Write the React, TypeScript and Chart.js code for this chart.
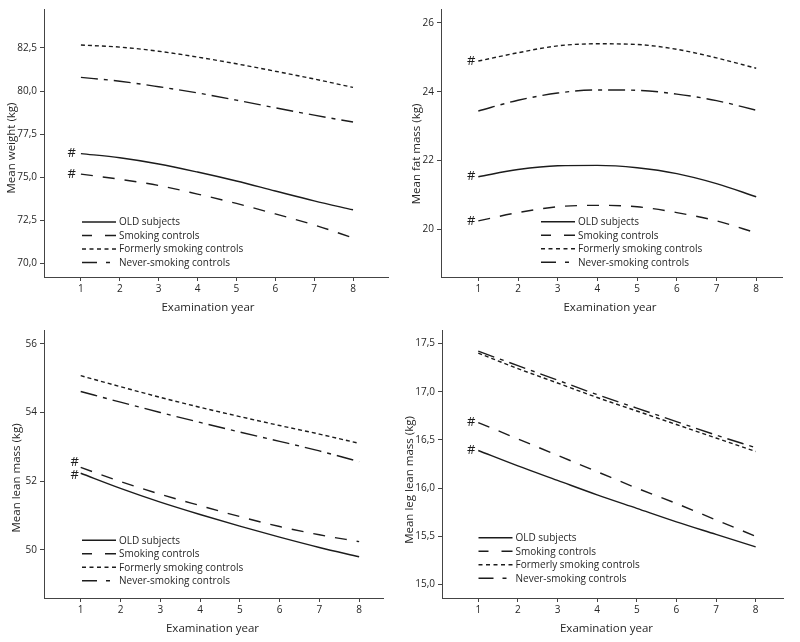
import React, { useEffect, useRef } from 'react';
import { Chart, registerables } from 'chart.js';

Chart.register(...registerables);

const FONT = '"Open Sans", "Noto Sans", sans-serif';
const INK = '#1c1c1c';
const AXIS = '#444444';
const TEXT = '#262626';

// ---- shared ----
const YEARS = [1, 2, 3, 4, 5, 6, 7, 8];
const SERIES_NAMES = ['OLD subjects', 'Smoking controls', 'Formerly smoking controls', 'Never-smoking controls'];
const X_TITLE = 'Examination year';

// ---- Mean weight (kg) ----
const weightOld = [76.37, 76.13, 75.77, 75.3, 74.78, 74.2, 73.63, 73.11];
const weightSmoking = [75.18, 74.88, 74.52, 74.02, 73.48, 72.87, 72.23, 71.48];
const weightFormer = [82.67, 82.55, 82.31, 81.97, 81.58, 81.15, 80.7, 80.21];
const weightNever = [80.79, 80.57, 80.25, 79.89, 79.47, 79.03, 78.6, 78.2];
const weightTicks = [70, 72.5, 75, 77.5, 80, 82.5];
const weightHashY = [76.37, 75.18];

// ---- Mean fat mass (kg) ----
const fatOld = [21.53, 21.74, 21.85, 21.86, 21.79, 21.62, 21.33, 20.95];
const fatSmoking = [20.25, 20.49, 20.66, 20.7, 20.66, 20.49, 20.25, 19.9];
const fatFormer = [24.89, 25.13, 25.33, 25.39, 25.37, 25.23, 24.98, 24.68];
const fatNever = [23.44, 23.75, 23.96, 24.05, 24.04, 23.93, 23.74, 23.46];
const fatTicks = [20, 22, 24, 26];
const fatHashY = [24.89, 21.53, 20.25];

// ---- Mean lean mass (kg) ----
const leanOld = [52.23, 51.79, 51.39, 51.03, 50.69, 50.37, 50.07, 49.8];
const leanSmoking = [52.4, 51.99, 51.62, 51.29, 50.97, 50.68, 50.44, 50.24];
const leanFormer = [55.07, 54.75, 54.44, 54.15, 53.88, 53.62, 53.37, 53.1];
const leanNever = [54.61, 54.3, 54.0, 53.71, 53.43, 53.16, 52.88, 52.57];
const leanTicks = [50, 52, 54, 56];
const leanHashY = [52.56, 52.17];

// ---- Mean leg lean mass (kg) ----
const legOld = [16.39, 16.23, 16.08, 15.93, 15.79, 15.65, 15.52, 15.39];
const legSmoking = [16.68, 16.51, 16.34, 16.17, 16.0, 15.84, 15.67, 15.5];
const legFormer = [17.4, 17.24, 17.09, 16.94, 16.8, 16.66, 16.52, 16.38];
const legNever = [17.42, 17.27, 17.12, 16.97, 16.83, 16.69, 16.55, 16.42];
const legTicks = [15, 15.5, 16, 16.5, 17, 17.5];
const legHashY = [16.68, 16.39];

// line styles: OLD solid, smoking long dash, formerly short dash, never dash-dot
const LINE_DASH = [[], [12, 10], [4, 3], [17, 6, 4, 6]];
const LEGEND_DASH = [[], [10, 13, 11], [4, 3.5], [15, 9, 4, 20]];

type PanelCfg = {
  series: number[][];
  ticks: number[];
  decimals: number;
  yTitle: string;
  yMin: number;
  yMax: number;
  xMin: number;
  xMax: number;
  hashY: number[];
  hashX: number;
  area: { left: number; right: number; top: number; bottom: number };
  yTitlePos: [number, number];
  xTitlePos: [number, number];
  legendPos: [number, number];
};

const PANELS: PanelCfg[] = [
  {
    series: [weightOld, weightSmoking, weightFormer, weightNever],
    ticks: weightTicks, decimals: 1, yTitle: 'Mean weight (kg)',
    yMin: 69.21, yMax: 84.76, xMin: 0.05, xMax: 8.9,
    hashY: weightHashY, hashX: 0.76,
    area: { left: 44, right: 388, top: 7, bottom: 277 },
    yTitlePos: [12, 148], xTitlePos: [208, 308], legendPos: [82, 222],
  },
  {
    series: [fatOld, fatSmoking, fatFormer, fatNever],
    ticks: fatTicks, decimals: 0, yTitle: 'Mean fat mass (kg)',
    yMin: 18.62, yMax: 26.4, xMin: 0.06, xMax: 8.65,
    hashY: fatHashY, hashX: 0.82,
    area: { left: 41, right: 382, top: 7, bottom: 277 },
    yTitlePos: [16.5, 154], xTitlePos: [210, 308], legendPos: [141, 221.7],
  },
  {
    series: [leanOld, leanSmoking, leanFormer, leanNever],
    ticks: leanTicks, decimals: 0, yTitle: 'Mean lean mass (kg)',
    yMin: 48.6, yMax: 56.4, xMin: 0.077, xMax: 8.6,
    hashY: leanHashY, hashX: 0.85,
    area: { left: 44, right: 383, top: 7, bottom: 277 },
    yTitlePos: [16.5, 157], xTitlePos: [212.5, 308], legendPos: [82, 219.3],
  },
  {
    series: [legOld, legSmoking, legFormer, legNever],
    ticks: legTicks, decimals: 1, yTitle: 'Mean leg lean mass (kg)',
    yMin: 14.86, yMax: 17.64, xMin: 0.085, xMax: 8.69,
    hashY: legHashY, hashX: 0.82,
    area: { left: 42, right: 383, top: 7, bottom: 277 },
    yTitlePos: [9.5, 159], xTitlePos: [206.5, 308], legendPos: [78.5, 216.7],
  },
];

const W = 400;
const H = 321;

const decorPlugin = {
  id: 'decor',
  afterDraw(chart: any, _args: any, opts: any) {
    const ctx = chart.ctx as CanvasRenderingContext2D;
    const xs = chart.scales.x;
    const ys = chart.scales.y;
    ctx.save();
    ctx.fillStyle = TEXT;
    ctx.textAlign = 'center';
    ctx.textBaseline = 'middle';
    ctx.font = `11.5px ${FONT}`;
    ctx.fillText(X_TITLE, opts.xTitlePos[0], opts.xTitlePos[1]);
    ctx.save();
    ctx.translate(opts.yTitlePos[0], opts.yTitlePos[1]);
    ctx.rotate(-Math.PI / 2);
    ctx.fillText(opts.yTitle, 0, 0);
    ctx.restore();

    // significance marks
    ctx.font = `13px ${FONT}`;
    ctx.fillStyle = INK;
    (opts.hashY as number[]).forEach((v) => {
      ctx.fillText('#', xs.getPixelForValue(opts.hashX), ys.getPixelForValue(v));
    });

    // legend
    const [lx, ly] = opts.legendPos;
    const gap = 13.5;
    chart.data.datasets.forEach((ds: any, i: number) => {
      const y = ly + i * gap;
      ctx.beginPath();
      ctx.strokeStyle = INK;
      ctx.lineWidth = 1.5;
      ctx.setLineDash(LEGEND_DASH[i]);
      ctx.moveTo(lx, y);
      ctx.lineTo(lx + 34, y);
      ctx.stroke();
      ctx.setLineDash([]);
      ctx.textAlign = 'left';
      ctx.fillStyle = TEXT;
      ctx.font = `10px ${FONT}`;
      ctx.fillText(ds.label, lx + 37, y + 0.5);
    });
    ctx.restore();
  },
};

function Panel({ cfg, left, top }: { cfg: PanelCfg; left: number; top: number }) {
  const ref = useRef<HTMLCanvasElement | null>(null);
  useEffect(() => {
    if (!ref.current) return;
    const fmt = (v: number) => v.toFixed(cfg.decimals).replace('.', ',');
    const chart = new Chart(ref.current, {
      type: 'line',
      data: {
        datasets: cfg.series.map((vals, i) => ({
          label: SERIES_NAMES[i],
          data: YEARS.map((yr, j) => ({ x: yr, y: vals[j] })),
          borderColor: INK,
          borderWidth: 1.4,
          borderDash: LINE_DASH[i],
          pointRadius: 0,
          fill: false,
          cubicInterpolationMode: 'monotone' as const,
        })),
      },
      options: {
        animation: false,
        responsive: false,
        devicePixelRatio: 1,
        layout: {
          padding: { left: 0, top: cfg.area.top, right: W - cfg.area.right, bottom: 0 },
        },
        plugins: {
          legend: { display: false },
          tooltip: { enabled: false },
          decor: {
            xTitlePos: cfg.xTitlePos,
            yTitlePos: cfg.yTitlePos,
            yTitle: cfg.yTitle,
            hashY: cfg.hashY,
            hashX: cfg.hashX,
            legendPos: cfg.legendPos,
          },
        } as any,
        scales: {
          x: {
            type: 'linear',
            min: cfg.xMin,
            max: cfg.xMax,
            afterBuildTicks: (s: any) => {
              s.ticks = YEARS.map((v) => ({ value: v }));
            },
            afterFit: (s: any) => {
              s.height = H - cfg.area.bottom;
            },
            ticks: {
              autoSkip: false,
              maxRotation: 0,
              padding: 2,
              color: TEXT,
              font: { family: FONT, size: 10 },
              callback: (v: any) => String(v),
            },
            grid: { drawOnChartArea: false, drawTicks: true, tickLength: 4, color: AXIS, lineWidth: 1 },
            border: { display: true, color: AXIS, width: 1 },
          },
          y: {
            type: 'linear',
            min: cfg.yMin,
            max: cfg.yMax,
            afterBuildTicks: (s: any) => {
              s.ticks = cfg.ticks.map((v) => ({ value: v }));
            },
            afterFit: (s: any) => {
              s.width = cfg.area.left;
            },
            ticks: {
              autoSkip: false,
              padding: 3,
              color: TEXT,
              font: { family: FONT, size: 10 },
              callback: (v: any) => fmt(Number(v)),
            },
            grid: { drawOnChartArea: false, drawTicks: true, tickLength: 4, color: AXIS, lineWidth: 1 },
            border: { display: true, color: AXIS, width: 1 },
          },
        },
      },
      plugins: [decorPlugin],
    } as any);
    return () => chart.destroy();
  }, [cfg]);
  return (
    <canvas
      ref={ref}
      width={W}
      height={H}
      style={{ position: 'absolute', left, top, width: W, height: H }}
    />
  );
}

export default function App() {
  return (
    <div style={{ position: 'absolute', left: 0, top: 0, width: 800, height: 642, background: '#ffffff' }}>
      <Panel cfg={PANELS[0]} left={0} top={0} />
      <Panel cfg={PANELS[1]} left={400} top={0} />
      <Panel cfg={PANELS[2]} left={0} top={321} />
      <Panel cfg={PANELS[3]} left={400} top={321} />
    </div>
  );
}
